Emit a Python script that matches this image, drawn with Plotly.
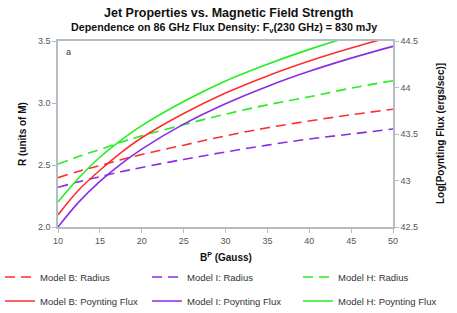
import plotly.graph_objects as go

b_field = [10, 12.5, 15, 17.5, 20, 25, 30, 35, 40, 45, 50]
radius_b = [2.398, 2.45, 2.495, 2.542, 2.585, 2.66, 2.735, 2.80, 2.855, 2.905, 2.95]
radius_i = [2.32, 2.365, 2.405, 2.445, 2.48, 2.545, 2.605, 2.66, 2.71, 2.75, 2.79]
radius_h = [2.508, 2.57, 2.625, 2.683, 2.735, 2.825, 2.91, 2.985, 3.05, 3.12, 3.18]
flux_b = [42.63, 42.90, 43.11, 43.298, 43.46, 43.72, 43.94, 44.125, 44.285, 44.425, 44.55]
flux_i = [42.5, 42.77, 42.99, 43.176, 43.337, 43.606, 43.826, 44.012, 44.174, 44.316, 44.443]
flux_h = [42.77, 43.03, 43.25, 43.431, 43.59, 43.85, 44.07, 44.25, 44.41, 44.55, 44.67]

left_ticks = [2.0, 2.5, 3.0, 3.5]
right_ticks = [42.5, 43, 43.5, 44, 44.5]
x_ticks = [10, 15, 20, 25, 30, 35, 40, 45, 50]

RED = "#ff2e2e"
PURPLE = "#8a2be8"
GREEN = "#22ee22"
FONT = "Liberation Sans, Arial, sans-serif"
AXC = "#b4bcc4"
W, H = 457, 313

# plot area in pixels: left 58, right 393, top 41, bottom 227
def px_x(px):
    return (px - 58) / 335

def px_y(py):
    return (227 - py) / 186

fig = go.Figure()
dash = "10px,6px"
series = [
    ("Model B: Radius", radius_b, RED, dash, "y", 0),
    ("Model I: Radius", radius_i, PURPLE, dash, "y", 1),
    ("Model H: Radius", radius_h, GREEN, dash, "y", 2),
    ("Model B: Poynting Flux", flux_b, RED, None, "y2", 3),
    ("Model I: Poynting Flux", flux_i, PURPLE, None, "y2", 4),
    ("Model H: Poynting Flux", flux_h, GREEN, None, "y2", 5),
]
legend_cols = [-3, 147, 298]
legend_rows = [277, 301]
legend_layout = {}
for name, ys, c, d, ax, k in series:
    lname = "legend" if k == 0 else f"legend{k + 1}"
    line = dict(color=c, width=1.6, shape="spline", smoothing=1)
    if d:
        line["dash"] = d
    fig.add_trace(go.Scatter(x=b_field, y=ys, name=name, mode="lines",
                             line=line, legend=lname, yaxis=ax))
    legend_layout[lname] = dict(
        orientation="h", xref="container", yref="container",
        x=legend_cols[k % 3] / W, y=1 - legend_rows[k // 3] / H,
        xanchor="left", yanchor="middle",
        font=dict(family=FONT, size=9.5, color="#333333"),
        bgcolor="rgba(0,0,0,0)", itemwidth=30)

tickfont = dict(family=FONT, size=9, color="#555555")
fig.update_layout(
    width=W, height=H,
    margin=dict(l=58, r=64, t=41, b=86, autoexpand=False),
    paper_bgcolor="white", plot_bgcolor="white",
    showlegend=True,
    xaxis=dict(range=[10, 50], tickvals=x_ticks, showgrid=False, zeroline=False,
               showline=True, linecolor=AXC, linewidth=1.5, mirror=True,
               ticks="outside", ticklen=4, tickcolor=AXC, tickfont=tickfont),
    yaxis=dict(range=[2.0, 3.5], tickvals=left_ticks, tickformat=".1f",
               showgrid=False, zeroline=False, showline=True, linecolor=AXC,
               linewidth=1.5, mirror=True, ticks="outside", ticklen=4,
               tickcolor=AXC, tickfont=tickfont),
    yaxis2=dict(range=[42.5, 44.5], tickvals=right_ticks, overlaying="y",
                side="right", showgrid=False, zeroline=False, showline=True,
                linecolor=AXC, linewidth=1.5, ticks="outside", ticklen=4,
                tickcolor=AXC, tickfont=tickfont),
    annotations=[
        dict(text="<b>Jet Properties vs. Magnetic Field Strength</b>",
             xref="paper", yref="paper", x=px_x(228), y=px_y(13),
             xanchor="center", yanchor="middle", showarrow=False,
             font=dict(family=FONT, size=12.5, color="#111111")),
        dict(text="<b>Dependence on 86 GHz Flux Density: F<sub>ν</sub>(230 GHz) = 830 mJy</b>",
             xref="paper", yref="paper", x=px_x(224), y=px_y(28),
             xanchor="center", yanchor="middle", showarrow=False,
             font=dict(family=FONT, size=10.7, color="#111111")),
        dict(text="a", xref="paper", yref="paper", x=px_x(64), y=px_y(52),
             xanchor="left", yanchor="middle", showarrow=False,
             font=dict(family=FONT, size=9, color="#333333")),
        dict(text="<b>R (units of M)</b>", xref="paper", yref="paper",
             x=px_x(22), y=0.5, textangle=-90, xanchor="center",
             yanchor="middle", showarrow=False,
             font=dict(family=FONT, size=10, color="#111111")),
        dict(text="<b>Log[Poynting Flux (ergs/sec)]</b>", xref="paper",
             yref="paper", x=px_x(440), y=0.5, textangle=-90,
             xanchor="center", yanchor="middle", showarrow=False,
             font=dict(family=FONT, size=10, color="#111111")),
        dict(text="<b>B<sup>P</sup> (Gauss)</b>", xref="paper", yref="paper",
             x=px_x(226), y=px_y(257), xanchor="center", yanchor="middle",
             showarrow=False, font=dict(family=FONT, size=10, color="#111111")),
    ],
    **legend_layout,
)

fig.write_html("out.html", config={"displayModeBar": False},
               post_script="document.body.style.margin='0';document.body.style.overflow='hidden';")
